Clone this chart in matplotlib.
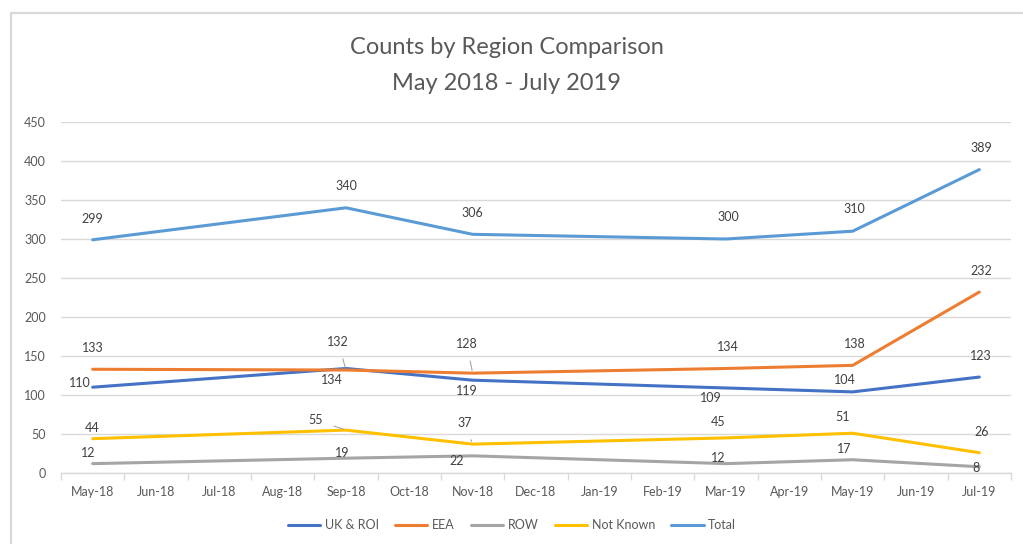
import matplotlib.pyplot as plt
import matplotlib.patches as patches

months = ['May-18', 'Jun-18', 'Jul-18', 'Aug-18', 'Sep-18', 'Oct-18', 'Nov-18', 'Dec-18',
          'Jan-19', 'Feb-19', 'Mar-19', 'Apr-19', 'May-19', 'Jun-19', 'Jul-19']
# months that actually have data (index into months)
data_months = [0, 4, 6, 10, 12, 14]

uk_roi = [110, 134, 119, 109, 104, 123]
eea = [133, 132, 128, 134, 138, 232]
row = [12, 19, 22, 12, 17, 8]
not_known = [44, 55, 37, 45, 51, 26]
total = [299, 340, 306, 300, 310, 389]

series_names = ['UK & ROI', 'EEA', 'ROW', 'Not Known', 'Total']
colors = ['#4472C4', '#ED7D31', '#A5A5A5', '#FFC000', '#5B9BD5']

# label offsets in pixels (dx, dy), plus whether a leader line is drawn
label_offsets = {
    'UK & ROI': [(-13, 4), (-14, -12), (-6, -11), (-15, -10), (-8, 12), (2, 21)],
    'EEA': [(0, 21), (-8, 28), (-6, 29), (2, 21), (2, 21), (2, 21)],
    'ROW': [(-4, 11), (-4, 5), (-16, -5), (-8, 6), (-8, 11), (-3, -1)],
    'Not Known': [(0, 11), (-30, 10), (-8, 21), (-8, 16), (-10, 16), (2, 21)],
    'Total': [(0, 21), (0, 22), (0, 21), (2, 22), (2, 22), (2, 22)],
}
leaders = {('EEA', 1), ('EEA', 2), ('Not Known', 1), ('Not Known', 2)}

plt.rcParams['font.family'] = ['Lato', 'DejaVu Sans']

fig = plt.figure(figsize=(10.23, 5.44), dpi=100)
ax = fig.add_axes([61 / 1023, 1 - 473 / 544, 950 / 1023, 351 / 544])

# chart border
fig.patches.append(patches.Rectangle((11 / 1023, -0.2), 1.2, 1.2 - 13 / 544,
                                     transform=fig.transFigure, fill=False,
                                     edgecolor='#D9D9D9', linewidth=1.6))

all_values = [uk_roi, eea, row, not_known, total]
for name, vals, c in zip(series_names, all_values, colors):
    ax.plot(data_months, vals, color=c, linewidth=2.2, label=name,
            solid_capstyle='round', solid_joinstyle='round')

for name, vals in zip(series_names, all_values):
    for i, (m, v) in enumerate(zip(data_months, vals)):
        dx, dy = label_offsets[name][i]
        arrow = None
        if (name, i) in leaders:
            arrow = dict(arrowstyle='-', color='#A6A6A6', lw=0.8, shrinkA=6, shrinkB=2)
        ax.annotate(str(v), (m, v), xytext=(dx, dy), textcoords='offset pixels',
                    ha='center', va='center', fontsize=9, color='#404040',
                    arrowprops=arrow)

ax.set_xlim(-0.5, 14.5)
ax.set_ylim(0, 450)
ax.set_yticks(range(0, 451, 50))
ax.set_xticks(range(len(months)))
ax.set_xticklabels(months)
ax.set_xticks([i - 0.5 for i in range(len(months) + 1)], minor=True)
ax.tick_params(axis='x', which='major', length=0, pad=9, labelsize=9, labelcolor='#595959')
ax.tick_params(axis='x', which='minor', length=5, color='#D9D9D9', width=1)
ax.tick_params(axis='y', length=0, pad=11, labelsize=9, labelcolor='#595959')

ax.grid(axis='y', color='#D9D9D9', linewidth=1)
ax.set_axisbelow(True)
for s in ['top', 'right', 'left']:
    ax.spines[s].set_visible(False)
ax.spines['bottom'].set_color('#D9D9D9')
ax.spines['bottom'].set_linewidth(1)

fig.text(507 / 1023, 1 - 47 / 544, 'Counts by Region Comparison', ha='center', va='center',
         fontsize=17, color='#595959')
fig.text(507 / 1023, 1 - 83 / 544, 'May 2018 - July 2019', ha='center', va='center',
         fontsize=17, color='#595959')

fig.legend(loc='center', bbox_to_anchor=(512 / 1023, 1 - 525 / 544), ncol=5, frameon=False,
           fontsize=9, handlelength=2.6, handletextpad=0.35, columnspacing=1.3,
           labelcolor='#595959')

fig.savefig('out.png', dpi=100)
